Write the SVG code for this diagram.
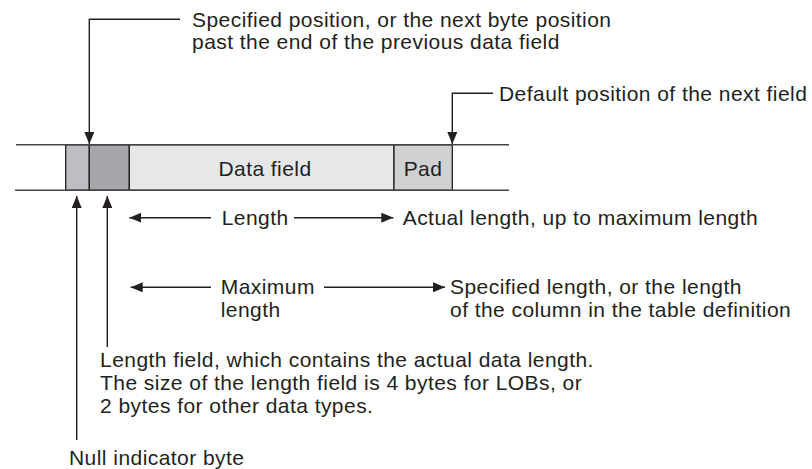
<svg xmlns="http://www.w3.org/2000/svg" width="812" height="469" viewBox="0 0 812 469">
<style>
text{font-family:"Liberation Sans",Arial,Helvetica,sans-serif;font-size:21px;letter-spacing:0.45px;fill:#231f20}
.c{fill:none;stroke:#231f20;stroke-width:1.4}
.ln{stroke:#444;stroke-width:1.6}
.bx{stroke:#231f20;stroke-width:1.3}
</style>
<defs>
<marker id="ah" markerUnits="userSpaceOnUse" markerWidth="12" markerHeight="10" refX="12" refY="5" orient="auto">
<path d="M0,0 L12,5 L0,10 z" fill="#231f20"/>
</marker>
</defs>
<rect width="812" height="469" fill="#fff"/>
<g id="record">
<rect class="bx" x="65.7" y="144.7" width="23.6" height="45.6" fill="#bcbec1"/>
<rect class="bx" x="89.3" y="144.7" width="40" height="45.6" fill="#a5a7aa"/>
<rect class="bx" x="129.3" y="144.7" width="264.7" height="45.6" fill="#e6e7e8"/>
<rect class="bx" x="394" y="144.7" width="58.3" height="45.6" fill="#d0d1d3"/>
<line class="ln" x1="16" y1="144.7" x2="509" y2="144.7"/>
<line class="ln" x1="15" y1="190.3" x2="509" y2="190.3"/>
<text x="265" y="176" text-anchor="middle">Data field</text>
<text x="423" y="176" text-anchor="middle">Pad</text>
</g>
<g id="connectors">
<path class="c" d="M180,19.3 H89.3 V144" marker-end="url(#ah)"/>
<path class="c" d="M493,93.3 H452.3 V144" marker-end="url(#ah)"/>
<path class="c" d="M76.7,440 V196" marker-end="url(#ah)"/>
<path class="c" d="M107.3,347 V196" marker-end="url(#ah)"/>
<path class="c" d="M211,217.7 H129.3" marker-end="url(#ah)"/>
<path class="c" d="M294,217.7 H393.3" marker-end="url(#ah)"/>
<path class="c" d="M211,287.3 H130.7" marker-end="url(#ah)"/>
<path class="c" d="M324,287.3 H445" marker-end="url(#ah)"/>
</g>
<g id="label-specified-position">
<text x="192" y="27">Specified position, or the next byte position</text>
<text x="192" y="49">past the end of the previous data field</text>
</g>
<g id="label-default-position">
<text x="499" y="101">Default position of the next field</text>
</g>
<g id="label-length">
<text x="221.7" y="224.5">Length</text>
</g>
<g id="label-actual-length">
<text x="402.7" y="224.5">Actual length, up to maximum length</text>
</g>
<g id="label-maximum-length">
<text x="220.7" y="294">Maximum</text>
<text x="220.7" y="316.5">length</text>
</g>
<g id="label-specified-length">
<text x="450" y="294">Specified length, or the length</text>
<text x="450" y="316.5">of the column in the table definition</text>
</g>
<g id="label-length-field">
<text x="100" y="367">Length field, which contains the actual data length.</text>
<text x="100" y="390">The size of the length field is 4 bytes for LOBs, or</text>
<text x="100" y="413">2 bytes for other data types.</text>
</g>
<g id="label-null-indicator">
<text x="69" y="465">Null indicator byte</text>
</g>
</svg>
